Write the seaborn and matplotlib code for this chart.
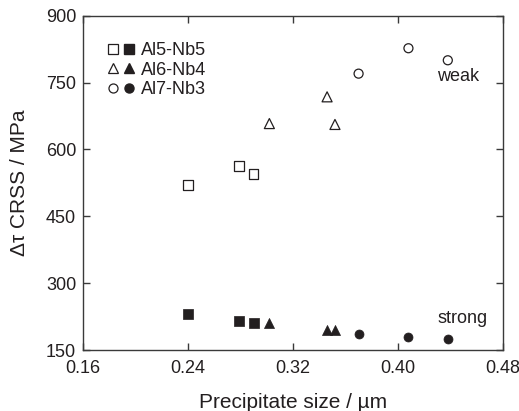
import matplotlib
matplotlib.use("Agg")
import matplotlib.pyplot as plt
import seaborn as sns
import pandas as pd
from matplotlib.lines import Line2D
from matplotlib.legend_handler import HandlerTuple

# Data
series = ["Al5-Nb5", "Al6-Nb4", "Al7-Nb3"]
size_al5 = [0.24, 0.279, 0.29]
size_al6 = [0.302, 0.346, 0.352]
size_al7 = [0.37, 0.408, 0.438]
weak_al5 = [520, 563, 545]
weak_al6 = [658, 718, 656]
weak_al7 = [770, 827, 800]
strong_al5 = [230, 214, 210]
strong_al6 = [210, 195, 195]
strong_al7 = [187, 180, 174]
xticks = [0.16, 0.24, 0.32, 0.40, 0.48]
yticks = [150, 300, 450, 600, 750, 900]

sns.set_style("ticks")
plt.rcParams["font.family"] = ["Liberation Sans", "DejaVu Sans"]
ink = "#231f20"
plt.rcParams.update({
    "axes.edgecolor": "#3a3a3a", "text.color": ink, "axes.labelcolor": ink,
    "xtick.color": "#3a3a3a", "ytick.color": "#3a3a3a",
    "xtick.labelcolor": ink, "ytick.labelcolor": ink,
})

fig = plt.figure(figsize=(5.19, 4.11), dpi=100)
ax = fig.add_axes([0.16, 0.1484, 0.809, 0.8134])

markers = ["s", "^", "o"]
sizes = [46, 52, 42]
xs = [size_al5, size_al6, size_al7]
weaks = [weak_al5, weak_al6, weak_al7]
strongs = [strong_al5, strong_al6, strong_al7]

for name, m, s, x, w, st in zip(series, markers, sizes, xs, weaks, strongs):
    dfw = pd.DataFrame({"size": x, "crss": w})
    sns.scatterplot(data=dfw, x="size", y="crss", marker=m, s=s, ax=ax,
                    color=ink, linewidth=0.9, legend=False)
    coll = ax.collections[-1]
    coll.set_facecolor("none")
    coll.set_edgecolor(ink)
    dfs = pd.DataFrame({"size": x, "crss": st})
    sns.scatterplot(data=dfs, x="size", y="crss", marker=m, s=s, ax=ax,
                    color=ink, linewidth=0.5, edgecolor=ink, legend=False)

ax.set_xlim(0.16, 0.48)
ax.set_ylim(150, 900)
ax.set_xticks(xticks)
ax.set_xticklabels([f"{t:.2f}" for t in xticks])
ax.set_yticks(yticks)
ax.tick_params(direction="in", length=5, width=1, labelsize=13,
               top=True, right=True)
ax.tick_params(axis="x", pad=7)
ax.tick_params(axis="y", pad=5)
for sp in ax.spines.values():
    sp.set_linewidth(1.0)
    sp.set_visible(True)

ax.set_xlabel("Precipitate size / µm", fontsize=15, labelpad=12)
ax.set_ylabel("Δτ CRSS / MPa", fontsize=15, labelpad=12)

ax.text(0.4456, 763, "weak", ha="center", va="center", fontsize=13)
ax.text(0.449, 221, "strong", ha="center", va="center", fontsize=13)

handles = []
for m, ms in zip(markers, [6.8, 7.2, 6.5]):
    h_open = Line2D([], [], ls="none", marker=m, markersize=ms,
                    markerfacecolor="none", markeredgecolor=ink, markeredgewidth=0.9)
    h_fill = Line2D([], [], ls="none", marker=m, markersize=ms,
                    markerfacecolor=ink, markeredgecolor=ink)
    handles.append((h_open, h_fill))
leg = ax.legend(handles, series, handler_map={tuple: HandlerTuple(ndivide=None, pad=0.2)},
                loc="upper left", bbox_to_anchor=(0.056, 0.92), frameon=False,
                fontsize=13, handlelength=1.6, handletextpad=0.3,
                labelspacing=0.13, borderpad=0, borderaxespad=0)

fig.savefig("out.png", dpi=100)
